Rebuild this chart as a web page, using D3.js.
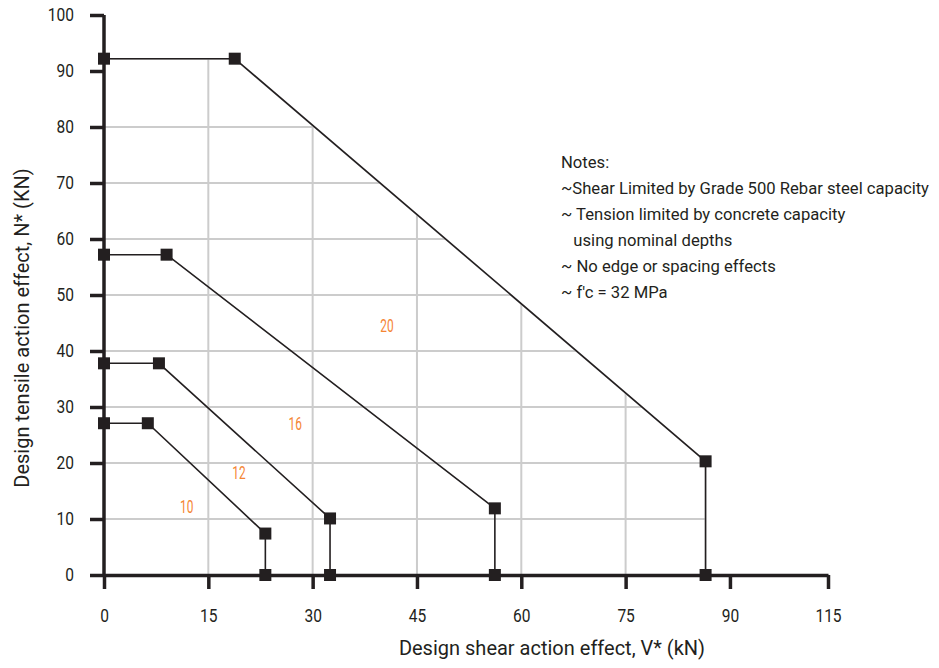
<!DOCTYPE html>
<html>
<head>
<meta charset="utf-8">
<script src="https://cdn.jsdelivr.net/npm/d3@7"></script>
<style>
  body { margin: 0; background: #fff; }
  svg { display: block; font-family: "Roboto", sans-serif; }
</style>
</head>
<body>
<div id="canva"></div>
<script>
// bar sizes and their envelope points (V*, N*)
const sizes = ['10', '12', '16', '20'];
const shearPts = [
  [0, 6.3, 23.2, 23.2],
  [0, 7.9, 32.5, 32.5],
  [0, 9.0, 56.2, 56.2],
  [0, 18.8, 86.5, 86.5]
];
const tensionPts = [
  [27.1, 27.1, 7.4, 0],
  [37.8, 37.8, 10.1, 0],
  [57.2, 57.2, 11.9, 0],
  [92.2, 92.2, 20.3, 0]
];
// where the size labels sit
const labelV = [11.9, 19.4, 27.5, 40.7];
const labelN = [12.2, 18.2, 27.0, 44.4];

const xTicks = [0, 15, 30, 45, 60, 75, 90, 104.1];
const xTickLabels = ['0', '15', '30', '45', '60', '75', '90', '115'];
const yTicks = [0, 10, 20, 30, 40, 50, 60, 70, 80, 90, 100];
const gridX = [15, 30, 45, 60, 75];
const gridY = [10, 20, 30, 40, 50, 60, 70, 80];

const notes = [
  'Notes:',
  '~Shear Limited by Grade 500 Rebar steel capacity',
  '~ Tension limited by concrete capacity',
  '   using nominal depths',
  '~ No edge or spacing effects',
  "~ f'c = 32 MPa"
];

const width = 939;
const height = 668;
const ink = '#231f20';

// squeeze text sideways, the original uses a condensed face
function condense(sel, k) {
  sel.each(function() {
    const len = this.getComputedTextLength();
    d3.select(this).attr('textLength', len * k).attr('lengthAdjust', 'spacingAndGlyphs');
  });
}

const svg = d3.select('#canva')
              .append('svg')
              .attr('width', width)
              .attr('height', height);

const x = d3.scaleLinear().domain([0, 104.1]).range([104, 828]);
const y = d3.scaleLinear().domain([0, 100]).range([575, 15]);

const series = sizes.map((s, i) => shearPts[i].map((v, j) => [v, tensionPts[i][j]]));
const line = d3.line().x(d => x(d[0])).y(d => y(d[1]));

// grid only inside the largest envelope
const outer = [[0, 0]].concat(series[3]);
svg.append('clipPath')
   .attr('id', 'env')
   .append('path')
   .attr('d', line(outer) + 'Z');

const grid = svg.append('g').attr('clip-path', 'url(#env)')
                .attr('stroke', '#cccccc').attr('stroke-width', 2);
grid.selectAll('.gx').data(gridX).enter().append('line')
    .attr('x1', d => x(d)).attr('x2', d => x(d))
    .attr('y1', y(0)).attr('y2', y(100));
grid.selectAll('.gy').data(gridY).enter().append('line')
    .attr('x1', x(0)).attr('x2', x(104.1))
    .attr('y1', d => y(d)).attr('y2', d => y(d));
grid.append('path')
    .attr('d', line(outer) + 'Z')
    .attr('fill', 'none');

// axes
const xAxis = d3.axisBottom(x)
                .tickValues(xTicks)
                .tickFormat((d, i) => xTickLabels[i])
                .tickSize(14)
                .tickSizeOuter(0)
                .tickPadding(20);
const yAxis = d3.axisLeft(y)
                .tickValues(yTicks)
                .tickSize(14)
                .tickSizeOuter(0)
                .tickPadding(16);

const gx = svg.append('g').attr('transform', 'translate(0,' + y(0) + ')').call(xAxis);
const gy = svg.append('g').attr('transform', 'translate(' + x(0) + ',0)').call(yAxis);
[gx, gy].forEach(g => {
  g.select('.domain').attr('stroke', ink).attr('stroke-width', 3.5);
  g.selectAll('.tick line').attr('stroke', ink).attr('stroke-width', 3.5);
  g.selectAll('.tick text').attr('fill', ink).style('font-size', '18.5px')
   .style('font-family', '"Roboto", sans-serif');
  condense(g.selectAll('.tick text'), 0.84);
});
gy.select('.domain').attr('d', 'M0,' + y(0) + 'V' + y(100));

// envelopes
svg.selectAll('.env')
   .data(series)
   .enter()
   .append('path')
   .attr('d', d => line(d))
   .attr('fill', 'none')
   .attr('stroke', ink)
   .attr('stroke-width', 1.6);

const m = 12;
series.forEach(s => {
  svg.selectAll(null)
     .data(s)
     .enter()
     .append('rect')
     .attr('x', d => x(d[0]) - m / 2)
     .attr('y', d => y(d[1]) - m / 2)
     .attr('width', m)
     .attr('height', m)
     .attr('fill', ink);
});

const lbl = svg.selectAll('.lbl')
   .data(sizes)
   .enter()
   .append('text')
   .attr('x', (d, i) => x(labelV[i]))
   .attr('y', (d, i) => y(labelN[i]))
   .attr('text-anchor', 'middle')
   .attr('dy', '0.35em')
   .attr('fill', '#f58634')
   .style('font-size', '17.5px')
   .text(d => d);
condense(lbl, 0.68);

// notes
const noteText = svg.append('g')
   .selectAll('text')
   .data(notes)
   .enter()
   .append('text')
   .attr('x', 561)
   .attr('y', (d, i) => 168 + i * 26)
   .attr('fill', ink)
   .style('font-size', '16.8px')
   .style('white-space', 'pre')
   .text(d => d);
// widest line is a bit under 373px in the original
const widest = d3.max(noteText.nodes(), n => n.getComputedTextLength());
condense(noteText, Math.min(1, 368 / widest));

// axis titles
svg.append('text')
   .attr('x', 552)
   .attr('y', 655)
   .attr('text-anchor', 'middle')
   .attr('fill', ink)
   .style('font-size', '20px')
   .text('Design shear action effect, V* (kN)');

svg.append('text')
   .attr('transform', 'translate(29,' + 328 + ') rotate(-90)')
   .attr('text-anchor', 'middle')
   .attr('fill', ink)
   .style('font-size', '20px')
   .text('Design tensile action effect, N* (KN)');
</script>
</body>
</html>
